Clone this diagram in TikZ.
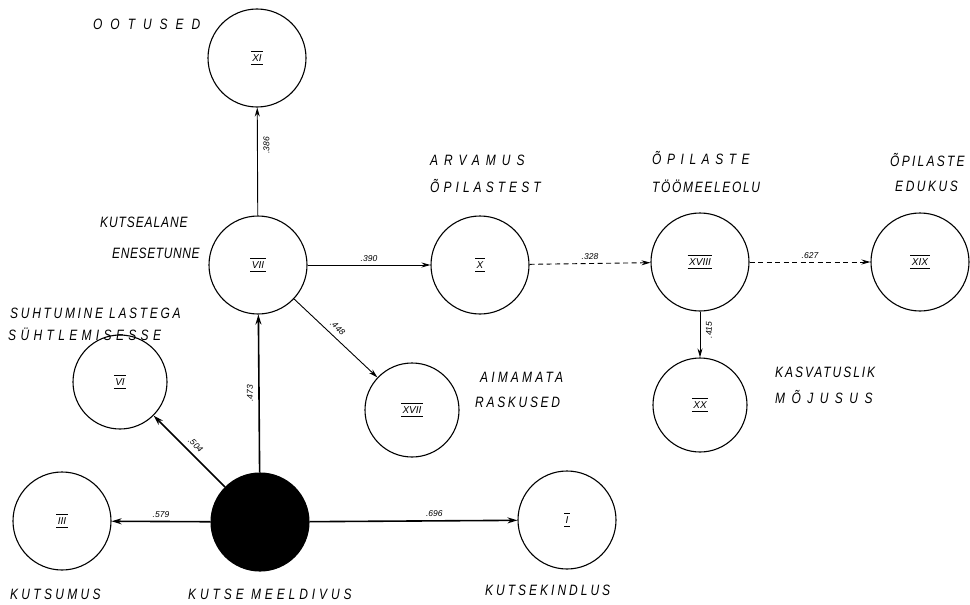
\documentclass[tikz,border=0pt]{standalone}
\usepackage{fontspec}
\setmainfont{Liberation Sans}
\usetikzlibrary{arrows.meta}

% roman numeral with a bar above and below, as used inside the factor circles
\newcommand\romlab[1]{\setbox0\hbox{\itshape #1}\dimen0=\wd0 \advance\dimen0 by 3pt
  \vbox{\hrule width\dimen0 height0.7pt\kern2.5pt\hbox to\dimen0{\hss\box0\hss}\kern2.5pt
        \hrule width\dimen0 height0.7pt}}

\tikzset{
  factor/.style={circle, draw, line width=1.1pt, minimum size=98pt, inner sep=0pt,
                 font=\fontsize{10}{11}\selectfont},
  core/.style={factor, fill=black},
  caption/.style={anchor=west, inner sep=0pt,
                  font=\fontsize{15}{17}\selectfont\itshape\addfontfeatures{FakeStretch=0.8,LetterSpace=#1}},
  caption/.default=15,
  coef/.style={inner sep=3pt, font=\fontsize{8.5}{9}\selectfont\itshape},
  offcoef/.style={coef, outer sep=3pt},
  link/.style={line width=0.9pt, -{Stealth[length=9pt,width=5pt]}},
  strong/.style={line width=1.6pt, -{Stealth[length=10pt,width=6pt]}},
  weak/.style={link, dashed, dash pattern=on 5pt off 3.5pt}
}

\begin{document}
\begin{tikzpicture}[x=1pt, y=-1pt]
\useasboundingbox (0,0) rectangle (970,605);

% factors
\node[factor] (xi)    at (257,58)  {\romlab{XI}};
\node[factor] (vii)   at (258,265) {\romlab{VII}};
\node[factor] (x)     at (480,265) {\romlab{X}};
\node[factor] (xviii) at (700,262) {\romlab{XVIII}};
\node[factor] (xix)   at (920,262) {\romlab{XIX}};
\node[factor, minimum size=94pt] (xx)    at (700,405) {\romlab{XX}};
\node[factor, minimum size=94pt] (xvii)  at (412,410) {\romlab{XVII}};
\node[factor, minimum size=94pt] (vi)    at (120,382) {\romlab{VI}};
\node[factor] (iii)   at (62,521)  {\romlab{III}};
\node[core]   (core)  at (260,522) {};
\node[factor] (i)     at (567,520) {\romlab{I}};

% captions
\node[caption=53] (c-xi)    at (93,24)   {OOTUSED};
\node[caption=6]  (c-vii1)  at (100,222) {KUTSEALANE};
\node[caption=4]  (c-vii2)  at (112,253) {ENESETUNNE};
\node[caption=40] (c-x1)    at (430,160) {ARVAMUS};
\node[caption=27] (c-x2)    at (430,186) {ÕPILASTEST};
\node[caption=37] (c-xv1)   at (652,158) {ÕPILASTE};
\node[caption=11] (c-xv2)   at (652,186) {TÖÖMEELEOLU};
\node[caption=15] (c-xix1)  at (890,160) {ÕPILASTE};
\node[caption=17] (c-xix2)  at (895,186) {EDUKUS};
\node[caption=18] (c-vi1)   at (10,313)  {SUHTUMINE LASTEGA};
\node[caption=29] (c-vi2)   at (8,334)   {SÜHTLEMISESSE};
\node[caption=21] (c-xvii1) at (480,377) {AIMAMATA};
\node[caption=18] (c-xvii2) at (475,402) {RASKUSED};
\node[caption=13] (c-xx1)   at (775,372) {KASVATUSLIK};
\node[caption=43] (c-xx2)   at (775,397) {MÕJUSUS};
\node[caption=22] (c-iii)   at (10,594)  {KUTSUMUS};
\node[caption=26] (c-core)  at (188,594) {KUTSE MEELDIVUS};
\node[caption=20] (c-i)     at (485,590) {KUTSEKINDLUS};

% links with their coefficients
\draw[link] (vii) -- node[offcoef, pos=0.65, rotate=90, anchor=north] {.386} (xi);
\draw[link] (vii) -- node[coef, above=0pt] {.390} (x);
\draw[weak] (x) -- node[coef, above=0pt] {.328} (xviii);
\draw[weak] (xviii) -- node[coef, above=0pt] {.627} (xix);
\draw[link] (xviii) -- node[offcoef, pos=0.4, rotate=90, anchor=north] {.415} (xx);
\draw[link] (vii) -- node[offcoef, pos=0.45, rotate=-43, anchor=south] {.448} (xvii);
\draw[strong] (core) -- node[offcoef, pos=0.5, rotate=90, anchor=south] {.473} (vii);
\draw[strong] (core) -- node[offcoef, pos=0.5, rotate=-45, anchor=south] {.504} (vi);
\draw[strong] (core) -- node[coef, above=0pt] {.579} (iii);
\draw[strong] (core) -- node[coef, above=0pt, pos=0.6] {.696} (i);
\end{tikzpicture}
\end{document}
